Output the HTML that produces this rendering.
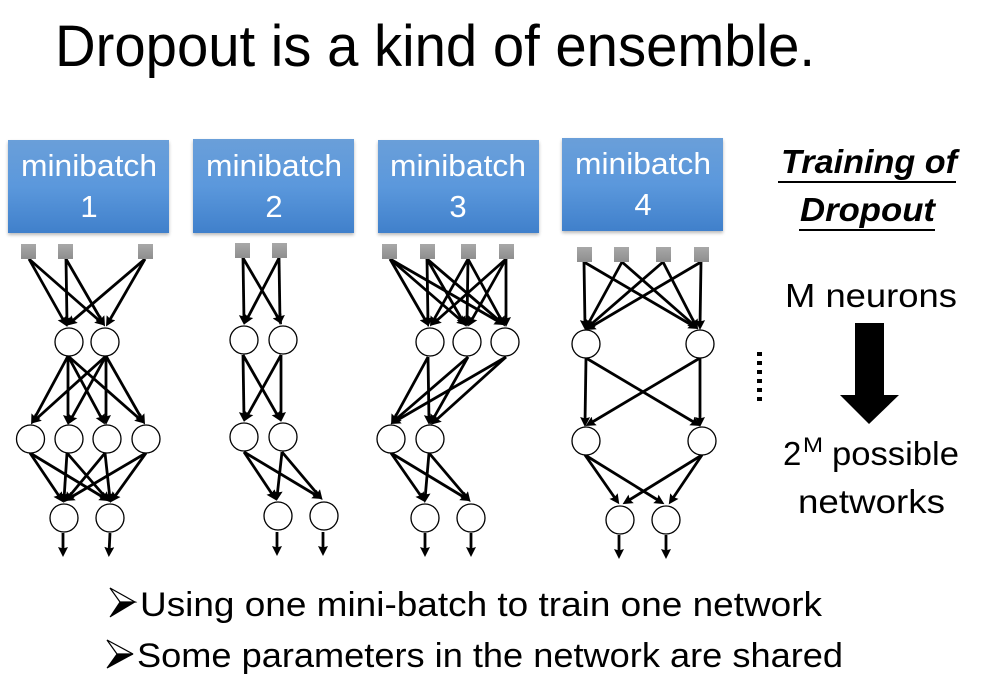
<!DOCTYPE html>
<html>
<head>
<meta charset="utf-8">
<style>
html,body{margin:0;padding:0;background:#fff;width:985px;height:683px;overflow:hidden}
svg{display:block}
text{font-family:"Liberation Sans",sans-serif;fill:#000}
.w{fill:#fff;font-size:31px}
.t{font-size:33px}
.b{font-size:34.5px}
.h{font-size:33px;font-weight:bold;font-style:italic}
</style>
</head>
<body>
<svg width="985" height="683" viewBox="0 0 985 683" xmlns="http://www.w3.org/2000/svg">
<defs>
<linearGradient id="g" x1="0" y1="0" x2="0" y2="1">
<stop offset="0" stop-color="#6a9fd9"/><stop offset=".5" stop-color="#5b98dc"/><stop offset="1" stop-color="#4080cb"/>
</linearGradient>
<linearGradient id="q" x1="0" y1="0" x2="0" y2="1">
<stop offset="0" stop-color="#a8a8a8"/><stop offset="1" stop-color="#8e8e8e"/>
</linearGradient>
<filter id="s" x="-10%" y="-10%" width="120%" height="125%"><feGaussianBlur stdDeviation="1.5"/></filter>
<marker id="a" markerUnits="userSpaceOnUse" markerWidth="12" markerHeight="11" refX="6" refY="5.5" orient="auto">
<path d="M0 .5L10 5.5L0 10.500L1.500 5.5z" fill="#000"/>
</marker>
</defs>

<text x="55" y="66" font-size="58" fill="#111" textLength="760" lengthAdjust="spacingAndGlyphs">Dropout is a kind of ensemble.</text>

<!-- boxes -->
<g fill="#8a8a8a" opacity=".6" filter="url(#s)">
<rect x="8" y="142" width="161" height="93"/>
<rect x="193" y="141" width="161" height="94"/>
<rect x="378" y="142" width="161" height="93"/>
<rect x="562" y="140" width="161" height="93"/>
</g>
<g fill="url(#g)">
<rect x="8" y="140" width="161" height="93"/>
<rect x="193" y="139" width="161" height="94"/>
<rect x="378" y="140" width="161" height="93"/>
<rect x="562" y="138" width="161" height="93"/>
</g>
<g class="w">
<text class="w" x="21" y="176" textLength="136" lengthAdjust="spacingAndGlyphs">minibatch</text>
<text class="w" x="89" y="217" text-anchor="middle">1</text>
<text class="w" x="206" y="176" textLength="136" lengthAdjust="spacingAndGlyphs">minibatch</text>
<text class="w" x="274" y="217" text-anchor="middle">2</text>
<text class="w" x="390" y="176" textLength="136" lengthAdjust="spacingAndGlyphs">minibatch</text>
<text class="w" x="458" y="217" text-anchor="middle">3</text>
<text class="w" x="575" y="174" textLength="136" lengthAdjust="spacingAndGlyphs">minibatch</text>
<text class="w" x="643" y="215" text-anchor="middle">4</text>
</g>

<!-- edges -->
<g fill="none" stroke="#000" stroke-width="2.8" marker-end="url(#a)">
<!-- net 1 -->
<path d="M29 259L65 323"/><path d="M29 259L102 323"/>
<path d="M66 259L67 323"/><path d="M66 259L103 323"/>
<path d="M145 259L70 323"/><path d="M145 259L108 323"/>
<path d="M68 356L33 421"/><path d="M68 356L68 421"/><path d="M68 356L103 421"/><path d="M68 356L142 421"/>
<path d="M106 356L34 421"/><path d="M106 356L70 421"/><path d="M106 356L106 421"/><path d="M106 356L143 421"/>
<path d="M30 453L61 499"/><path d="M30 453L106 499"/>
<path d="M67 453L64 499"/><path d="M67 453L107 499"/>
<path d="M105 453L67 499"/><path d="M105 453L110 499"/>
<path d="M146 453L68 499"/><path d="M146 453L113 499"/>
<path d="M63 533L63 553"/><path d="M110 533L109 553"/>
<!-- net 2 -->
<path d="M243 258L244 321"/><path d="M243 258L280 321"/>
<path d="M279 258L246 321"/><path d="M279 258L280 321"/>
<path d="M243 355L244 418"/><path d="M243 355L279 418"/>
<path d="M281 355L246 418"/><path d="M281 355L281 418"/>
<path d="M244 452L274 497"/><path d="M244 452L319 497"/>
<path d="M282 452L277 497"/><path d="M282 452L320 497"/>
<path d="M277 532L277 552"/><path d="M323 532L323 552"/>
<!-- net 3 -->
<path d="M390 259L427 323"/><path d="M390 259L464 323"/><path d="M390 259L501 323"/>
<path d="M427 259L428 323"/><path d="M427 259L464 323"/><path d="M427 259L502 323"/>
<path d="M468 259L432 323"/><path d="M468 259L467 323"/><path d="M468 259L503 323"/>
<path d="M506 259L434 323"/><path d="M506 259L470 323"/><path d="M506 259L506 323"/>
<path d="M428 357L393 421"/><path d="M428 357L429 421"/>
<path d="M468 357L394 421"/><path d="M468 357L432 421"/>
<path d="M506 357L394 422"/><path d="M506 357L434 422"/>
<path d="M391 453L423 499"/><path d="M391 453L467 499"/>
<path d="M429 453L425 499"/><path d="M429 453L468 499"/>
<path d="M425 533L425 553"/><path d="M471 533L471 553"/>
<!-- net 4 -->
<path d="M584 262L585 326"/><path d="M584 262L695 327"/>
<path d="M622 262L587 326"/><path d="M622 262L695 326"/>
<path d="M663 262L588 327"/><path d="M663 262L696 326"/>
<path d="M701 262L589 328"/><path d="M701 262L700 326"/>
<path d="M586 358L585 423"/><path d="M586 358L697 424"/>
<path d="M700 358L589 424"/><path d="M700 358L700 423"/>
<path d="M585 455L617 501"/><path d="M585 455L661 502"/>
<path d="M702 455L626 502"/><path d="M702 455L671 501"/>
<path d="M619 535L619 555"/><path d="M666 535L666 555"/>
</g>

<!-- input squares -->
<g fill="url(#q)">
<rect x="21" y="244" width="15" height="15"/><rect x="58" y="244" width="15" height="15"/><rect x="138" y="244" width="15" height="15"/>
<rect x="235" y="243" width="15" height="15"/><rect x="272" y="243" width="15" height="15"/>
<rect x="382" y="244" width="15" height="15"/><rect x="420" y="244" width="15" height="15"/><rect x="461" y="244" width="15" height="15"/><rect x="499" y="244" width="15" height="15"/>
<rect x="577" y="247" width="15" height="15"/><rect x="614" y="247" width="15" height="15"/><rect x="656" y="247" width="15" height="15"/><rect x="694" y="247" width="15" height="15"/>
</g>

<!-- neurons -->
<g fill="#fff" stroke="#000" stroke-width="1.3">
<circle cx="69" cy="342" r="14"/><circle cx="105" cy="342" r="14"/>
<circle cx="30.500" cy="439" r="14"/><circle cx="69" cy="439" r="14"/><circle cx="107" cy="439" r="14"/><circle cx="146" cy="439" r="14"/>
<circle cx="64" cy="518" r="14"/><circle cx="110" cy="518" r="14"/>
<circle cx="244" cy="340" r="14"/><circle cx="283" cy="340" r="14"/>
<circle cx="244" cy="437" r="14"/><circle cx="283" cy="437" r="14"/>
<circle cx="278" cy="516" r="14"/><circle cx="324" cy="516" r="14"/>
<circle cx="430" cy="342" r="14"/><circle cx="467" cy="342" r="14"/><circle cx="505" cy="342" r="14"/>
<circle cx="391" cy="439" r="14"/><circle cx="430" cy="439" r="14"/>
<circle cx="425" cy="518" r="14"/><circle cx="471" cy="518" r="14"/>
<circle cx="586" cy="344" r="14"/><circle cx="700" cy="344" r="14"/>
<circle cx="586" cy="441" r="14"/><circle cx="702" cy="441" r="14"/>
<circle cx="620" cy="520" r="14"/><circle cx="666" cy="520" r="14"/>
</g>

<!-- dots -->
<g fill="#000">
<rect x="757" y="352" width="5" height="4"/><rect x="757" y="361" width="5" height="4"/><rect x="757" y="370" width="5" height="4"/><rect x="757" y="379" width="5" height="4"/><rect x="757" y="388" width="5" height="4"/><rect x="757" y="397" width="5" height="4"/>
</g>

<!-- right column -->
<text class="h" x="781" y="173" textLength="176" lengthAdjust="spacingAndGlyphs">Training of</text>
<rect x="778" y="181" width="178" height="2" fill="#000"/>
<text class="h" x="800" y="221" textLength="135" lengthAdjust="spacingAndGlyphs">Dropout</text>
<rect x="799" y="229" width="136" height="2" fill="#000"/>
<text class="t" x="785" y="307" textLength="172" lengthAdjust="spacingAndGlyphs">M neurons</text>
<polygon points="855,323 884,323 884,395 899,395 869,424 840,395 855,395" fill="#000"/>
<text class="t" x="783" y="465">2</text>
<text x="803" y="452" font-size="21" textLength="20" lengthAdjust="spacingAndGlyphs">M</text>
<text class="t" x="832" y="465" textLength="127" lengthAdjust="spacingAndGlyphs">possible</text>
<text class="t" x="798" y="513" textLength="147" lengthAdjust="spacingAndGlyphs">networks</text>

<!-- bullets -->
<polygon points="110,588 135,602 120,602" fill="#fff" stroke="#000" stroke-width="1.2"/>
<polygon points="135,602 110,617 120,602" fill="#000" stroke="#000" stroke-width="1"/>
<text class="b" x="140" y="616" textLength="682" lengthAdjust="spacingAndGlyphs">Using one mini-batch to train one network</text>
<polygon points="107,640 133,654 117,654" fill="#fff" stroke="#000" stroke-width="1.2"/>
<polygon points="133,654 107,668 117,654" fill="#000" stroke="#000" stroke-width="1"/>
<text class="b" x="137" y="667" textLength="706" lengthAdjust="spacingAndGlyphs">Some parameters in the network are shared</text>
</svg>
</body>
</html>
